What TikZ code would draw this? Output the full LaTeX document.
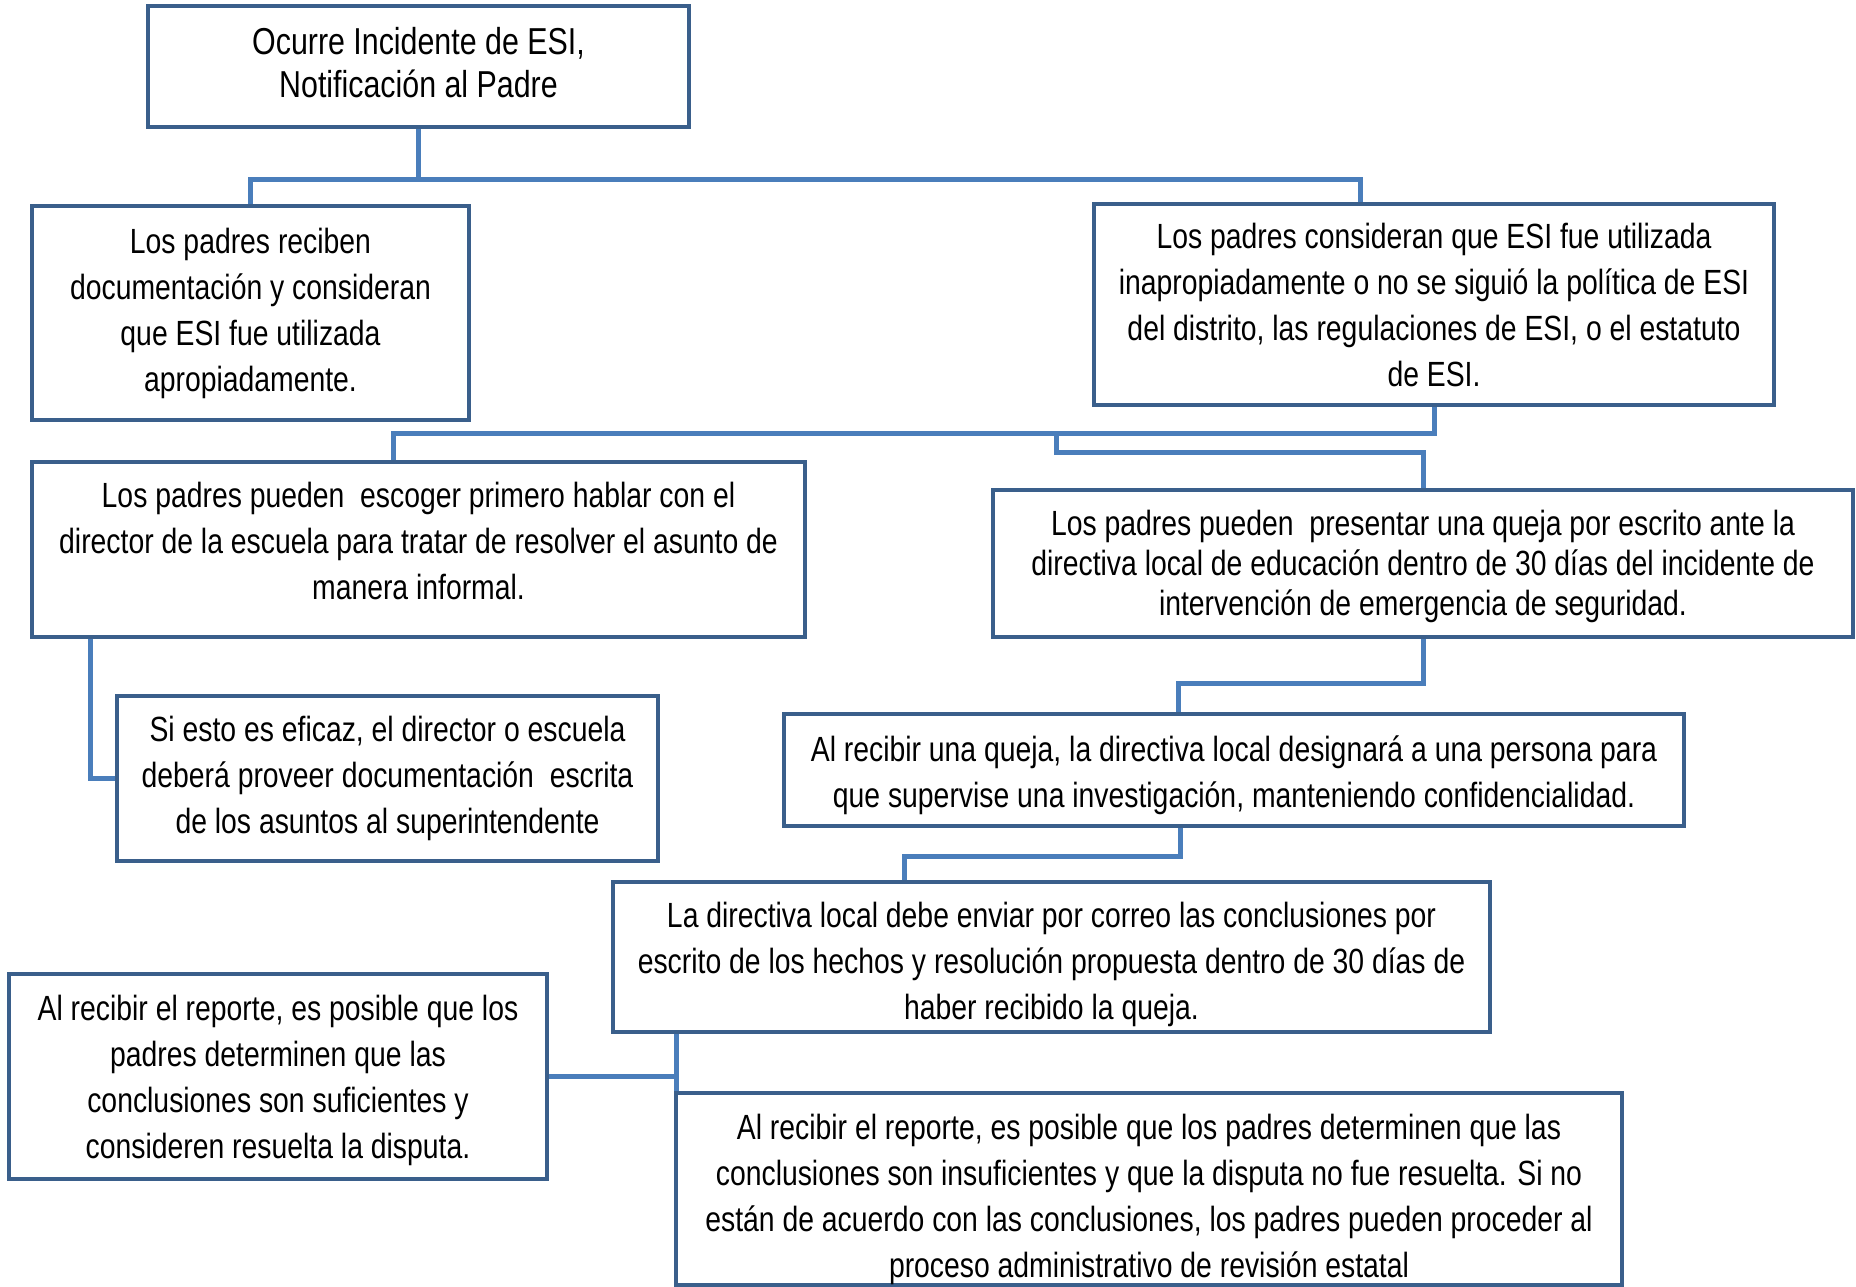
\documentclass[tikz,border=0pt]{standalone}
\usepackage{fontspec}
\setmainfont[FakeStretch=0.81]{Liberation Sans}
\usetikzlibrary{calc,backgrounds}
\definecolor{boxblue}{RGB}{58,95,139}
\definecolor{linkblue}{RGB}{74,126,187}
\tikzset{
  stepbox/.style={draw=boxblue, line width=4pt, fill=white, inner sep=0pt, outer sep=0pt,
    align=center, font=\fontsize{35}{46}\selectfont},
  link/.style={draw=linkblue, line width=5pt}
}

\begin{document}
\begin{tikzpicture}[x=1pt,y=1pt,yscale=-1,xscale=1]
\useasboundingbox (0,0) rectangle (1856,1287);

% Text Node
\node[stepbox, minimum width=541pt, minimum height=121pt, font=\fontsize{37.5}{43}\selectfont] (incid) at (418.5,66.5)
  {Ocurre Incidente de ESI,\\ Notificación al Padre\rule[-8pt]{0pt}{1pt}};
% Text Node
\node[stepbox, minimum width=437pt, minimum height=214pt] (padok) at (250.5,313)
  {Los padres reciben\\ documentación y consideran\\ que ESI fue utilizada\\ apropiadamente.};
% Text Node
\node[stepbox, minimum width=680pt, minimum height=201pt] (padmal) at (1434,304.5)
  {Los padres consideran que ESI fue utilizada\\ inapropiadamente o no se siguió la política de ESI\\ del distrito, las regulaciones de ESI, o el estatuto\\ de ESI.};
% Text Node
\node[stepbox, minimum width=773pt, minimum height=175pt] (hablar) at (418.5,549.5)
  {Los padres pueden\ \ escoger primero hablar con el\\ director de la escuela para tratar de resolver el asunto de\\ manera informal.\rule[-17pt]{0pt}{1pt}};
% Text Node
\node[stepbox, minimum width=860pt, minimum height=147pt, font=\fontsize{35}{40}\selectfont] (queja) at (1423,563.5)
  {\rule{0pt}{31pt}Los padres pueden\ \ presentar una queja por escrito ante la\\ directiva local de educación dentro de 30 días del incidente de\\ intervención de emergencia de seguridad.};
% Text Node
\node[stepbox, minimum width=541pt, minimum height=165pt] (eficaz) at (387.5,778.5)
  {Si esto es eficaz, el director o escuela\\ deberá proveer documentación\ \ escrita\\ de los asuntos al superintendente};
% Text Node
\node[stepbox, minimum width=900pt, minimum height=112pt] (invest) at (1234,770)
  {\rule{0pt}{36pt}Al recibir una queja, la directiva local designará a una persona para\\ que supervise una investigación, manteniendo confidencialidad.};
% Text Node
\node[stepbox, minimum width=877pt, minimum height=150pt] (concl) at (1051.5,957)
  {\rule{0pt}{41pt}La directiva local debe enviar por correo las conclusiones por\\ escrito de los hechos y resolución propuesta dentro de 30 días de\\ haber recibido la queja.};
% Text Node
\node[stepbox, minimum width=538pt, minimum height=205pt] (sufic) at (278,1076.5)
  {\rule{0pt}{33pt}Al recibir el reporte, es posible que los\\ padres determinen que las\\ conclusiones son suficientes y\\ consideren resuelta la disputa.};
% Text Node
\node[stepbox, minimum width=946pt, minimum height=190pt] (insuf) at (1149,1189)
  {\rule{0pt}{46pt}Al recibir el reporte, es posible que los padres determinen que las\\ conclusiones son insuficientes y que la disputa no fue resuelta. Si no\\ están de acuerdo con las conclusiones, los padres pueden proceder al\\ proceso administrativo de revisión estatal};

\begin{scope}[on background layer]
%Straight Lines
\draw[link] (incid.south) |- ++(0,53) coordinate (j1) -| (padok.north);
\draw[link] (j1) -| ($(padmal.north)+(-74,0)$);
%Straight Lines
\draw[link] (padmal.south) |- ++(0,28) coordinate (j2) -| ($(hablar.north)+(-25,0)$);
\draw[link] ($(padmal.south)+(-378,28)$) -- ++(0,19) -| (queja.north);
%Straight Lines
\draw[link] ($(hablar.south west)+(58,0)$) |- (eficaz.west);
%Straight Lines
\draw[link] (queja.south) -- ++(0,46) -| ($(invest.north)+(-56,0)$);
\draw[link] ($(invest.south)+(-54,0)$) -- ++(0,30) -| ($(concl.north)+(-147,0)$);
%Straight Lines
\draw[link] (concl.south -| insuf.west) -- ($(insuf.north west)+(0,16)$);
\draw[link] (sufic.east) -- (sufic.east -| insuf.west);
\end{scope}

\end{tikzpicture}
\end{document}
